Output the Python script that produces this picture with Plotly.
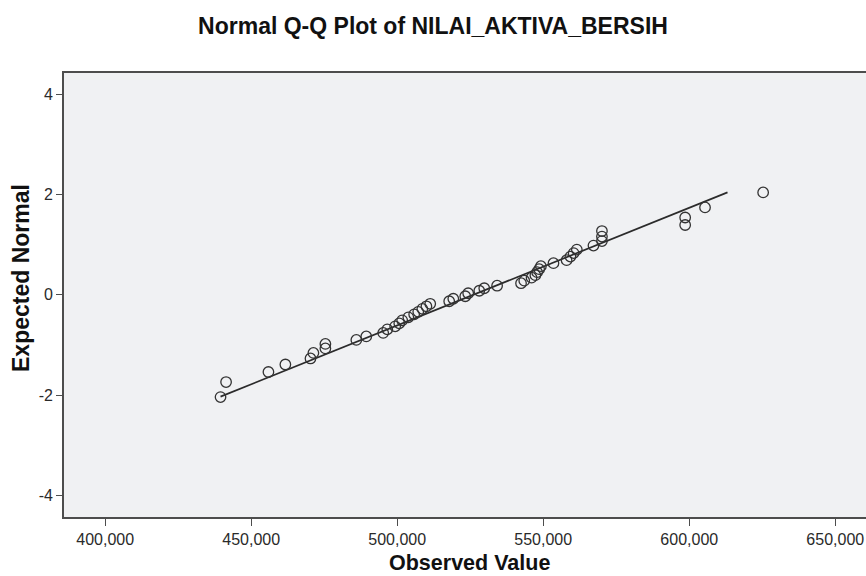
import plotly.graph_objects as go

observed = [439500, 441400, 455900, 461700, 470300, 471300, 475400, 475400, 486000, 489400,
            495200, 496600, 499300, 500700, 501700, 503800, 505800, 507200, 508600, 510000,
            511300, 517800, 519200, 523300, 524300, 528100, 529800, 534200, 542400, 543500,
            546000, 547300, 547900, 548600, 549200, 553500, 558000, 559300, 560400, 561500,
            567200, 570100, 570100, 570100, 598600, 598600, 605400, 625300]
# Expected normal values
expected = [-2.04, -1.74, -1.54, -1.39, -1.27, -1.16, -1.07, -0.98, -0.90, -0.83,
            -0.76, -0.69, -0.63, -0.57, -0.51, -0.45, -0.39, -0.34, -0.28, -0.23,
            -0.18, -0.13, -0.08, -0.03, 0.03, 0.08, 0.13, 0.18, 0.23, 0.28,
            0.34, 0.39, 0.45, 0.51, 0.57, 0.63, 0.69, 0.76, 0.83, 0.90,
            0.98, 1.07, 1.16, 1.27, 1.39, 1.54, 1.74, 2.04]
# Reference line end points
line_x = [439500, 613100]
line_y = [-2.03, 2.04]

x_tickvals = [400000, 450000, 500000, 550000, 600000, 650000]
x_ticktext = ["400,000", "450,000", "500,000", "550,000", "600,000", "650,000"]
y_tickvals = [-4, -2, 0, 2, 4]
y_ticktext = ["-4", "-2", "0", "2", "4"]

FONT = "Liberation Sans, Arial, sans-serif"
AXIS_COLOR = "#4d4d4d"

fig = go.Figure()
fig.add_trace(go.Scatter(x=line_x, y=line_y, mode="lines",
                         line=dict(color="#2b2b2b", width=1.7),
                         hoverinfo="skip", showlegend=False))
fig.add_trace(go.Scatter(x=observed, y=expected, mode="markers",
                         marker=dict(symbol="circle-open", size=10.5,
                                     color="#333333", line=dict(width=1.3, color="#333333")),
                         showlegend=False))

fig.update_layout(
    width=866, height=576,
    margin=dict(l=64, r=0, t=73, b=59),
    paper_bgcolor="white",
    plot_bgcolor="#F0F1F3",
    font=dict(family=FONT, color="#222222"),
    title=dict(text="<b>Normal Q-Q Plot of NILAI_AKTIVA_BERSIH</b>",
               x=433 / 866, xref="container", xanchor="center",
               y=1 - 26 / 576, yref="container", yanchor="middle",
               font=dict(size=23, color="#111111", family=FONT)),
    showlegend=False,
)

fig.update_xaxes(
    range=[385900, 660520], tickvals=x_tickvals, ticktext=x_ticktext,
    showgrid=False, zeroline=False,
    showline=True, linecolor=AXIS_COLOR, linewidth=1.6, mirror=True,
    ticks="outside", ticklen=7, tickwidth=1.4, tickcolor=AXIS_COLOR,
    tickfont=dict(size=16, color="#2a2a2a", family=FONT),
)
fig.update_yaxes(
    range=[-4.43, 4.42], tickvals=y_tickvals, ticktext=y_ticktext,
    showgrid=False, zeroline=False,
    showline=True, linecolor=AXIS_COLOR, linewidth=1.6,
    ticks="outside", ticklen=6, tickwidth=1.4, tickcolor=AXIS_COLOR,
    tickfont=dict(size=16, color="#2a2a2a", family=FONT),
)

fig.add_annotation(text="<b>Observed Value</b>", xref="paper", yref="paper",
                   x=(469.5 - 64) / 802, y=0, xanchor="center", yanchor="middle",
                   yshift=-46, showarrow=False,
                   font=dict(size=21.5, color="#111111", family=FONT))
fig.add_annotation(text="<b>Expected Normal</b>", xref="paper", yref="paper",
                   x=0, y=(517 - 278) / 444, xanchor="center", yanchor="middle",
                   xshift=-43, textangle=-90, showarrow=False,
                   font=dict(size=23, color="#111111", family=FONT))

fig.write_html("out.html",
               config={"displayModeBar": False},
               post_script="document.body.style.margin='0px';document.body.style.overflow='hidden';")
